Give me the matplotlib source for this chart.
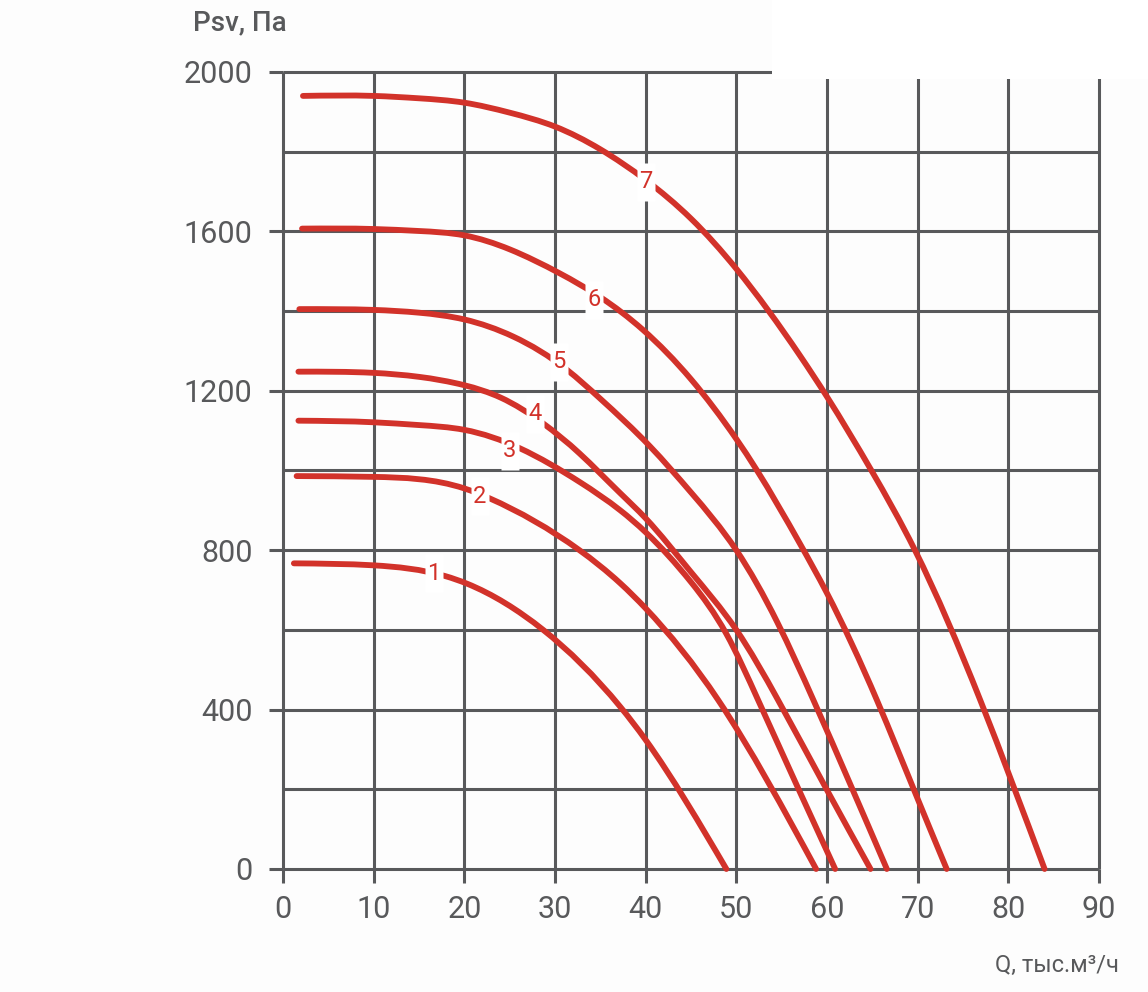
import numpy as np
import matplotlib
matplotlib.use("Agg")
import matplotlib.pyplot as plt
from matplotlib.path import Path
from matplotlib.patches import PathPatch, Rectangle

plt.rcParams["font.family"] = ["Roboto", "DejaVu Sans"]

# fan curves, Q in thousand m3/h, Psv in Pa
Q1 = [1.2, 10, 17.9, 20.3, 28.7, 37.2, 40, 48.9]
P1 = [767, 762, 735, 716, 600, 407, 324, 0]
Q2 = [1.5, 10, 20, 22.8, 32.7, 37.2, 40, 48, 58.8]
P2 = [986, 984, 955, 930, 800, 717, 654, 424, 0]
Q3 = [1.7, 10, 15, 20, 26.1, 32.8, 37.2, 40, 45, 48.9, 52.4, 60.9]
P3 = [1125, 1121, 1114, 1102, 1056, 970, 900, 845, 720, 590, 424, 0]
Q4 = [1.7, 10, 15, 20, 24, 28.7, 32.7, 37.2, 40, 45, 50, 54.6, 60, 64.8]
P4 = [1248, 1245, 1235, 1214, 1183, 1118, 1043, 943, 880, 745, 600, 424, 198, 0]
Q5 = [1.8, 10, 15, 20, 25.4, 31.3, 35, 40.5, 45, 50, 54.5, 58.5, 66.6]
P5 = [1405, 1403, 1396, 1379, 1336, 1253, 1180, 1060, 945, 800, 620, 424, 0]
Q6 = [2.1, 10, 15, 20, 25, 30.5, 35, 39.7, 45, 50, 52.2, 57, 60, 65.5, 70, 73.2]
P6 = [1607, 1606, 1601, 1590, 1555, 1495, 1435, 1353, 1229, 1079, 1003, 817, 692, 424, 176, 0]
Q7 = [2.2, 10, 15, 20, 25, 30, 35, 40, 45, 50, 57, 60, 64.9, 69.7, 76.9, 84.0]
P7 = [1940, 1940, 1934, 1923, 1898, 1863, 1806, 1729, 1632, 1506, 1289, 1185, 1000, 800, 424, 0]
CURVES = [(Q1, P1), (Q2, P2), (Q3, P3), (Q4, P4), (Q5, P5), (Q6, P6), (Q7, P7)]

LABELS = ["1", "2", "3", "4", "5", "6", "7"]
LAB_Q = [16.6, 21.7, 25.0, 27.8, 30.4, 34.3, 40.0]
LAB_P = [742, 936, 1050, 1143, 1273, 1428, 1724]

XTICKS = list(range(0, 91, 10))
YTICKS = list(range(0, 2001, 400))
YGRID = list(range(0, 2001, 200))

RED = "#d2322a"
GRID = "#58595b"
TXT = "#58595b"

W, H = 1148, 992
fig = plt.figure(figsize=(W / 100, H / 100), dpi=100, facecolor="#fdfdfd")
ax = fig.add_axes([283 / W, 1 - 869 / H, (1099 - 283) / W, (869 - 72) / H])
ax.set_facecolor("none")
ax.set_xlim(0, 90)
ax.set_ylim(0, 2000)
for s in ax.spines.values():
    s.set_visible(False)

ax.vlines(XTICKS, 0, 2000, color=GRID, lw=2.2, clip_on=False, zorder=1)
ax.hlines(YGRID, 0, 90, color=GRID, lw=2.2, clip_on=False, zorder=1)

ax.set_xticks(XTICKS)
ax.set_yticks(YTICKS)
ax.tick_params(axis="x", length=10, width=2.2, color=GRID, pad=9, labelsize=22, labelcolor=TXT)
ax.tick_params(axis="y", length=10, width=2.2, color=GRID, pad=12, labelsize=22, labelcolor=TXT)


def smooth(xs, ys):
    # natural cubic spline through the read points, drawn as bezier segments
    x = np.asarray(xs, float)
    y = np.asarray(ys, float)
    n = len(x)
    h = np.diff(x)
    d = np.diff(y) / h
    A = np.zeros((n, n))
    b = np.zeros(n)
    A[0, 0] = A[-1, -1] = 1
    for k in range(1, n - 1):
        A[k, k - 1] = h[k - 1]
        A[k, k] = 2 * (h[k - 1] + h[k])
        A[k, k + 1] = h[k]
        b[k] = 6 * (d[k] - d[k - 1])
    M = np.linalg.solve(A, b)
    verts, codes = [(x[0], y[0])], [Path.MOVETO]
    for k in range(n - 1):
        m0 = d[k] - h[k] * (2 * M[k] + M[k + 1]) / 6
        m1 = d[k] + h[k] * (M[k] + 2 * M[k + 1]) / 6
        verts += [(x[k] + h[k] / 3, y[k] + m0 * h[k] / 3),
                  (x[k + 1] - h[k] / 3, y[k + 1] - m1 * h[k] / 3),
                  (x[k + 1], y[k + 1])]
        codes += [Path.CURVE4] * 3
    return Path(verts, codes)


for q, p in CURVES:
    ax.add_patch(PathPatch(smooth(q, p), fill=False, edgecolor=RED, lw=4.2,
                           capstyle="round", joinstyle="round", clip_on=False, zorder=3))

box = Path([(-0.25, -0.5), (0.25, -0.5), (0.25, 0.5), (-0.25, 0.5), (-0.25, -0.5)])
ax.plot(LAB_Q, LAB_P, ls="none", marker=box, ms=27, mfc="white", mec="none", zorder=4)
for t, x, y in zip(LABELS, LAB_Q, LAB_P):
    ax.text(x, y, t, ha="center", va="center", color=RED, fontsize=17, zorder=5)

fig.text(193 / W, 1 - 30 / H, "Psv, Па", fontsize=20, color=TXT, fontweight="medium", va="baseline")
fig.text(995 / W, 1 - 972 / H, "Q, тыс.м³/ч", fontsize=17, color=TXT, va="baseline")

fig.patches.append(Rectangle((772 / W, 1 - 79 / H), 1, 1, transform=fig.transFigure,
                             facecolor="white", edgecolor="none", zorder=10))

fig.savefig("out.png", dpi=100, facecolor=fig.get_facecolor())
